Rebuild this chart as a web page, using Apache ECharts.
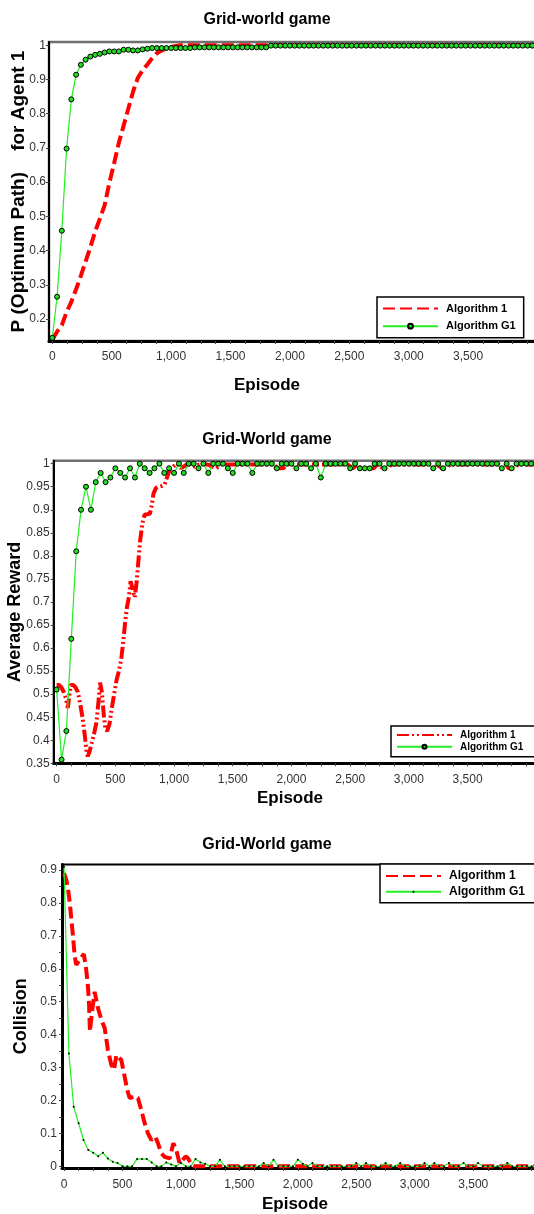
<!DOCTYPE html>
<html><head><meta charset="utf-8">
<script src="https://cdn.jsdelivr.net/npm/echarts@6/dist/echarts.min.js"></script>
<style>html,body{margin:0;padding:0;background:#fff}#c{width:534px;height:1214px}</style>
</head><body><div id="c"></div>
<script>
// ---------- Chart 1: P (Optimum Path) ----------
const c1Episodes = [0,40,80,120,160,200,240,280,320,360,400,440,480,520,560,600,640,680,720,760,800,840,880,920,960,1000,1040,1080,1120,1160,1200,1240,1280,1320,1360,1400,1440,1480,1520,1560,1600,1640,1680,1720,1760,1800,1840,1880,1920,1960,2000,2040,2080,2120,2160,2200,2240,2280,2320,2360,2400,2440,2480,2520,2560,2600,2640,2680,2720,2760,2800,2840,2880,2920,2960,3000,3040,3080,3120,3160,3200,3240,3280,3320,3360,3400,3440,3480,3520,3560,3600,3640,3680,3720,3760,3800,3840,3880,3920,3960,4000,4040,4080];
const c1G1 = [0.145,0.265,0.458,0.698,0.842,0.914,0.943,0.958,0.967,0.972,
  0.975,0.979,0.982,0.982,0.982,0.987,0.987,0.985,0.985,0.988,
  0.990,0.992,0.992,0.992,0.992,0.992,0.992,0.992,0.992,0.992,
  0.994,0.994,0.994,0.994,0.994,0.994,0.994,0.994,0.994,0.994,
  0.994,0.994,0.994,0.994,0.994,0.994,0.999,0.999,0.999,0.999,
  0.999,0.999,0.999,0.999,0.999,0.999,0.999,0.999,0.999,0.999,
  0.999,0.999,0.999,0.999,0.999,0.999,0.999,0.999,0.999,0.999,
  0.999,0.999,0.999,0.999,0.999,0.999,0.999,0.999,0.999,0.999,
  0.999,0.999,0.999,0.999,0.999,0.999,0.999,0.999,0.999,0.999,
  0.999,0.999,0.999,0.999,0.999,0.999,0.999,0.999,0.999,0.999,
  0.999,0.999,0.999];
const c1Alg1Episodes = [0,40,80,120,160,200,240,280,320,360,400,440,480,520,560,600,640,680,720,760,800,840,880,920,960,1000,1040,1080,4100];
const c1Alg1 = [0.14,0.163,0.182,0.22,0.25,0.287,0.326,0.368,0.41,0.455,0.493,0.532,0.598,0.655,0.715,0.765,0.815,0.865,0.905,0.927,0.944,0.962,0.977,0.985,0.991,0.995,0.998,1.0,1.0];

// ---------- Chart 2: Average Reward ----------
const gEpisodes = [0,42,83,125,167,208,250,292,333,375,417,458,500,542,583,625,667,708,750,792,833,875,917,958,1000,1042,1083,1125,1167,1208,1250,1292,1333,1375,1417,1458,1500,1542,1583,1625,1667,1708,1750,1792,1833,1875,1917,1958,2000,2042,2083,2125,2167,2208,2250,2292,2333,2375,2417,2458,2500,2542,2583,2625,2667,2708,2750,2792,2833,2875,2917,2958,3000,3042,3083,3125,3167,3208,3250,3292,3333,3375,3417,3458,3500,3542,3583,3625,3667,3708,3750,3792,3833,3875,3917,3958,4000,4042,4083];
const c2G1 = [0.51,0.358,0.42,0.62,0.81,0.90,0.95,0.90,0.96,0.98,
  0.96,0.97,0.99,0.98,0.97,0.99,0.97,1.0,0.99,0.98,
  0.99,1.0,0.98,0.99,0.98,1.0,0.98,1.0,1.0,0.99,
  1.0,0.98,1.0,1.0,1.0,0.99,0.98,1.0,1.0,1.0,
  0.98,1.0,1.0,1.0,1.0,0.99,1.0,1.0,1.0,0.99,
  1.0,1.0,0.99,1.0,0.97,1.0,1.0,1.0,1.0,1.0,
  0.99,1.0,0.99,0.99,0.99,1.0,1.0,0.99,1.0,1.0,
  1.0,1.0,1.0,1.0,1.0,1.0,1.0,0.99,1.0,0.99,
  1.0,1.0,1.0,1.0,1.0,1.0,1.0,1.0,1.0,1.0,
  1.0,0.99,1.0,0.99,1.0,1.0,1.0,1.0,1.0];
const c2Alg1Episodes = [0,20,40,60,80,95,105,120,140,160,180,200,220,240,255,265,280,300,320,340,355,370,385,400,415,430,450,470,490,510,530,550,570,585,600,615,630,645,665,680,695,710,730,750,770,795,810,825,845,870,900,920,940,960,980,1000,1030,1060,1090,1120,1160,1200,1240,1300,1360,1400,1850,1880,1930,1960,2480,2520,2560,2590,2700,2730,2780,2820,2850,3190,3220,3250,3280,3320,3350,3770,3800,3830,3850,3900,3930,4100];
const c2Alg1 = [0.52,0.52,0.515,0.505,0.49,0.47,0.49,0.52,0.52,0.515,0.505,0.48,0.45,0.41,0.375,0.365,0.375,0.395,0.415,0.44,0.48,0.525,0.505,0.46,0.425,0.42,0.435,0.47,0.5,0.53,0.55,0.575,0.62,0.66,0.69,0.71,0.745,0.73,0.71,0.74,0.785,0.83,0.87,0.89,0.89,0.892,0.91,0.935,0.947,0.95,0.952,0.955,0.97,0.985,0.99,0.995,1.0,0.99,0.995,1.0,0.993,0.997,1.0,0.997,0.99,0.998,0.998,0.99,0.99,0.998,0.998,0.99,0.998,0.99,0.99,0.998,0.99,0.99,0.998,0.998,0.99,0.998,0.99,0.99,0.998,0.998,0.99,0.998,0.99,0.99,0.998,0.998];

// ---------- Chart 3: Collision ----------
const c3G1 = [0.91,0.343,0.181,0.131,0.08,0.05,0.041,0.031,0.041,0.024,
  0.014,0.01,0,0,0,0.022,0.022,0.022,0.012,0,
  0,0.012,0.006,0,0.01,0,0,0.022,0.012,0.008,
  0,0,0.02,0,0,0,0,0,0,0,
  0,0.01,0,0.02,0,0,0,0,0.02,0.008,
  0,0.01,0,0,0,0,0,0,0,0,
  0.01,0,0.01,0,0,0,0.01,0,0,0.01,
  0,0,0,0,0.01,0,0.01,0,0,0.01,
  0,0,0.01,0,0,0.01,0,0,0,0,
  0,0.01,0,0,0,0,0,0,0];
const c3Alg1Episodes = [0,20,35,50,63,77,91,105,135,170,190,205,214,222,240,262,291,320,348,376,405,428,448,490,519,541,562,604,633,661,690,718,747,781,804,832,861,904,935,960,989,1040,1060,1090,1120,4100];
const c3Alg1 = [0.89,0.87,0.84,0.80,0.75,0.70,0.64,0.612,0.628,0.645,0.597,0.546,0.495,0.41,0.47,0.53,0.48,0.445,0.42,0.353,0.308,0.293,0.338,0.323,0.272,0.232,0.207,0.214,0.207,0.171,0.131,0.10,0.08,0.09,0.07,0.04,0.029,0.024,0.07,0.05,0.009,0.03,0.025,0.005,0,0];

// ---------- Tick labels ----------
const xLabelValues = [0,500,1000,1500,2000,2500,3000,3500];
const xTickValues = [0,125,250,375,500,625,750,875,1000,1125,1250,1375,1500,1625,1750,1875,2000,2125,2250,2375,2500,2625,2750,2875,3000,3125,3250,3375,3500,3625,3750,3875,4000];
const y1Labels = [0.2,0.3,0.4,0.5,0.6,0.7,0.8,0.9,1];
const y2Labels = [0.35,0.4,0.45,0.5,0.55,0.6,0.65,0.7,0.75,0.8,0.85,0.9,0.95,1];
const y3Labels = [0,0.1,0.2,0.3,0.4,0.5,0.6,0.7,0.8,0.9];
const y3Ticks = [0,0.05,0.1,0.15,0.2,0.25,0.3,0.35,0.4,0.45,0.5,0.55,0.6,0.65,0.7,0.75,0.8,0.85,0.9];

const FONT = 'Liberation Sans, Arial, sans-serif';
const GREEN = '#22ee22';
const zip = (xs, ys) => xs.map((x, i) => [x, ys[i]]);
const fmtY = v => String(+(+v).toFixed(2));
const fmtX = v => Number(v).toLocaleString('en-US');

function xAxis(gi, min, max, margin) {
  return {type:'value', gridIndex:gi, min, max,
    axisLine:{show:true, onZero:false, lineStyle:{color:'#000', width:3}},
    axisTick:{show:true, length:3, customValues:xTickValues, lineStyle:{color:'#444', width:1}},
    axisLabel:{customValues:xLabelValues, formatter:fmtX, margin, color:'#333', fontSize:12, fontFamily:FONT},
    splitLine:{show:false}};
}
function yAxis(gi, min, max, labels, ticks, name, gap, margin, lw, nameSize) {
  return {type:'value', gridIndex:gi, min, max,
    axisLine:{show:true, onZero:false, lineStyle:{color:'#000', width:lw}},
    axisTick:{show:true, length:3, customValues:ticks, lineStyle:{color:'#444', width:1}},
    axisLabel:{customValues:labels, formatter:fmtY, margin, color:'#333', fontSize:12, fontFamily:FONT},
    splitLine:{show:false},
    name, nameLocation:'middle', nameGap:gap, nameMoveOverlap:false,
    nameTextStyle:{fontSize:nameSize, fontWeight:'bold', color:'#000', fontFamily:FONT}};
}
function legend(names, left, top, gap, fs, pad, ih) {
  return {data:[{name:names[0], itemStyle:{opacity:0}}, {name:names[1]}],
    orient:'vertical', left, top, itemWidth:55, itemHeight:ih, itemGap:gap,
    padding:pad, borderColor:'#000', borderWidth:1.5, backgroundColor:'#fff',
    selectedMode:false, formatter:n => n.split('|')[0],
    textStyle:{fontSize:fs, fontWeight:'bold', color:'#000', fontFamily:FONT, padding:[0,0,0,3]}};
}
const titleStyle = {fontSize:16, fontWeight:'bold', color:'#000', fontFamily:FONT};
const epStyle = t => ({text:t, align:'center', verticalAlign:'middle', font:'bold 17px Liberation Sans', fill:'#000'});

const option = {
  animation:false,
  title:[
    {text:'Grid-world game', left:'center', top:12, padding:0, textStyle:titleStyle},
    {text:'Grid-World game', left:'center', top:432, padding:0, textStyle:titleStyle},
    {text:'Grid-World game', left:'center', top:837, padding:0, textStyle:titleStyle}
  ],
  graphic:[
    {type:'text', x:267, y:385, style:epStyle('Episode')},
    {type:'text', x:290, y:798, style:epStyle('Episode')},
    {type:'text', x:295, y:1204, style:epStyle('Episode')}
  ],
  grid:[
    {left:49, top:42, width:490.4, height:299, outerBoundsMode:'none', containLabel:false, show:true, borderColor:'#707070', borderWidth:2.5, backgroundColor:'#fff'},
    {left:53.7, top:460.7, width:484.3, height:302.6, outerBoundsMode:'none', containLabel:false, show:true, borderColor:'#707070', borderWidth:2.5, backgroundColor:'#fff'},
    {left:62, top:864.5, width:481.4, height:303.5, outerBoundsMode:'none', containLabel:false, show:true, borderColor:'#000', borderWidth:2, backgroundColor:'#fff'}
  ],
  xAxis:[xAxis(0,-28,4100,10), xAxis(1,-25,4100,10), xAxis(2,-17,4100,11)],
  yAxis:[
    yAxis(0,0.1357,1.0096,y1Labels,y1Labels,'P (Optimum Path)    for Agent 1',21,3,2,19),
    yAxis(1,0.35,1.0065,y2Labels,y2Labels,'Average Reward',30,4,2,18),
    yAxis(2,-0.005,0.9167,y3Labels,y3Ticks,'Collision',32,5,3,18)
  ],
  legend:[
    legend(['Algorithm 1|1','Algorithm G1|1'],377,297,6.7,11,[6,8,6,5],6),
    legend(['Algorithm 1|2','Algorithm G1|2'],391,726,1.8,10,[4,20,5,5],5),
    legend(['Algorithm 1|3','Algorithm G1|3'],380,864,3.7,12,[6,20,5,5],2.5)
  ],
  series:[
    {name:'Algorithm 1|1', type:'line', xAxisIndex:0, yAxisIndex:0, data:zip(c1Alg1Episodes,c1Alg1),
      symbol:'none', lineStyle:{color:'#ff0000', width:4, type:[12,5]}, itemStyle:{color:'#ff0000'}},
    {name:'Algorithm G1|1', type:'line', xAxisIndex:0, yAxisIndex:0, data:zip(c1Episodes,c1G1),
      symbol:'circle', symbolSize:5, showAllSymbol:true, lineStyle:{color:GREEN, width:1.2},
      itemStyle:{color:'#22dd22', borderColor:'#000', borderWidth:1}},
    {name:'Algorithm 1|2', type:'line', xAxisIndex:1, yAxisIndex:1, data:zip(c2Alg1Episodes,c2Alg1),
      symbol:'none', lineStyle:{color:'#ff0000', width:4, type:[12,3,2,3,2,3]}, itemStyle:{color:'#ff0000'}},
    {name:'Algorithm G1|2', type:'line', xAxisIndex:1, yAxisIndex:1, data:zip(gEpisodes,c2G1),
      symbol:'circle', symbolSize:5, showAllSymbol:true, lineStyle:{color:GREEN, width:1.2},
      itemStyle:{color:'#22dd22', borderColor:'#000', borderWidth:1}},
    {name:'Algorithm 1|3', type:'line', xAxisIndex:2, yAxisIndex:2, data:zip(c3Alg1Episodes,c3Alg1),
      symbol:'none', lineStyle:{color:'#ff0000', width:4, type:[12,5]}, itemStyle:{color:'#ff0000'}},
    {name:'Algorithm G1|3', type:'line', xAxisIndex:2, yAxisIndex:2, data:zip(gEpisodes,c3G1),
      symbol:'circle', symbolSize:2, showAllSymbol:true, lineStyle:{color:GREEN, width:1.2},
      itemStyle:{color:'#000', borderWidth:0}}
  ]
};
const chart = echarts.init(document.getElementById('c'), null, {renderer:'canvas'});
chart.setOption(option);
</script></body></html>
